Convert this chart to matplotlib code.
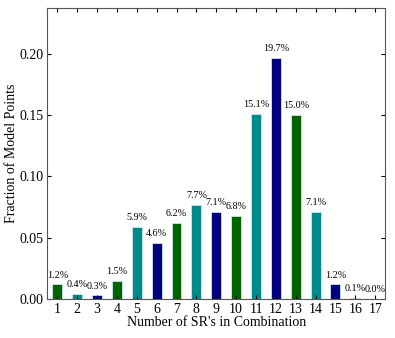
import numpy as np
import matplotlib
matplotlib.use('Agg')
import matplotlib.pyplot as plt

plt.rcParams['font.family'] = ['Liberation Serif', 'DejaVu Serif']

#Data
n_sr = list(range(1, 18))
fraction = [0.012, 0.004, 0.003, 0.015, 0.059, 0.046, 0.062, 0.077, 0.071,
            0.068, 0.151, 0.197, 0.150, 0.071, 0.012, 0.001, 0.000]
bar_colors = ['darkgreen', 'darkcyan', 'navy']

fig, ax = plt.subplots(figsize=(3.95, 3.38), dpi=100)
colors = [bar_colors[i % 3] for i in range(len(n_sr))]
bars = ax.bar(n_sr, fraction, width=0.5, color=colors, edgecolor='#cfe8e8', linewidth=0.6)

#Percent labels above the bars
for x, v in zip(n_sr, fraction):
    ax.text(x, v + 0.004, '%.1f%%' % (v * 100), ha='center', va='bottom', fontsize=7.3)

ax.set_xlim(0.5, 17.5)
ax.set_ylim(0, 0.237)
ax.set_xticks(n_sr)
ax.set_yticks([0.0, 0.05, 0.10, 0.15, 0.20])
ax.set_yticklabels(['0.00', '0.05', '0.10', '0.15', '0.20'])
ax.tick_params(direction='in', top=True, right=True, labelsize=10, length=3, pad=3)
ax.set_xlabel("Number of SR's in Combination", fontsize=10, labelpad=0)
ax.set_ylabel('Fraction of Model Points', fontsize=10, labelpad=1)
for s in ax.spines.values():
    s.set_color('#555555')

plt.subplots_adjust(left=0.12, right=0.975, top=0.975, bottom=0.115)
plt.savefig('out.png')
